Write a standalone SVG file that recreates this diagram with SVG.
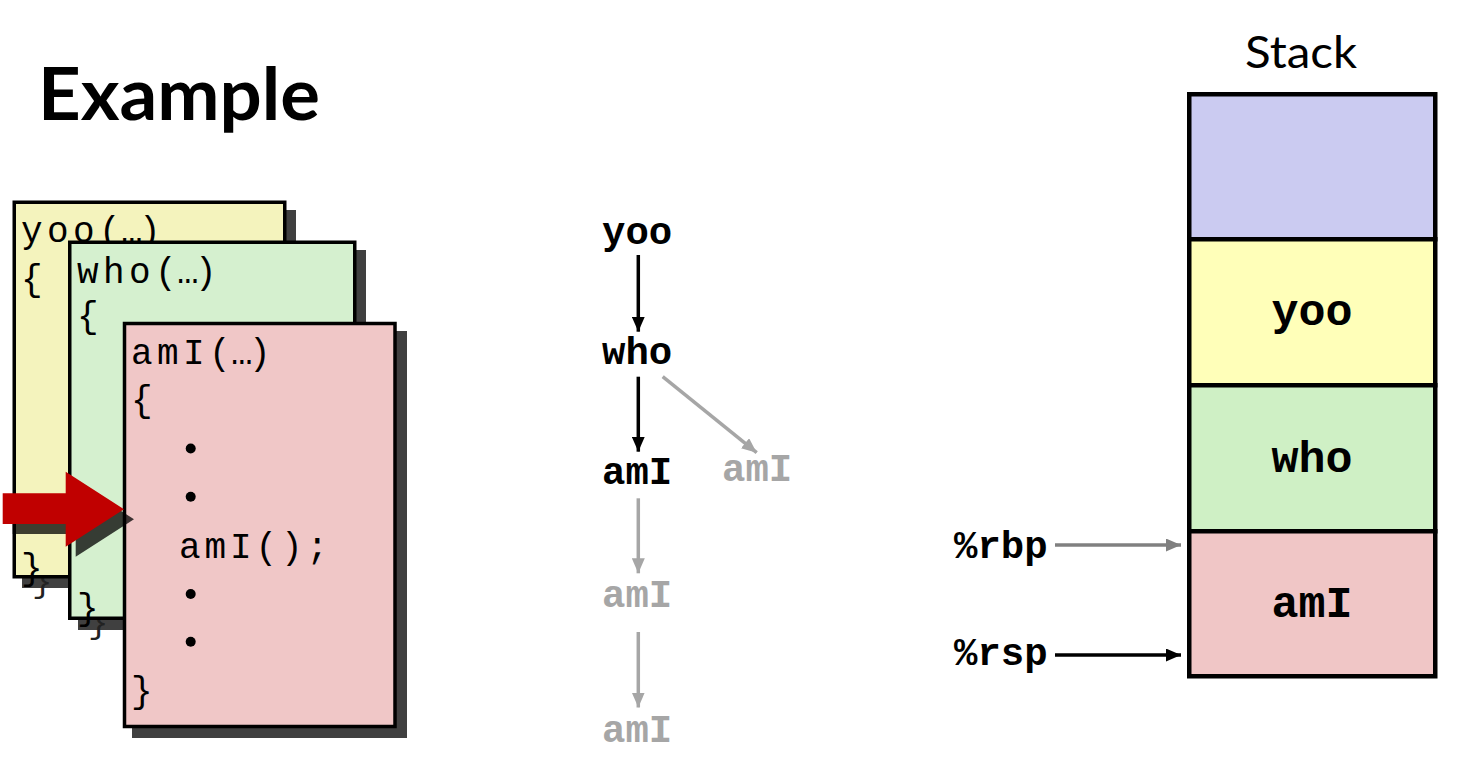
<svg xmlns="http://www.w3.org/2000/svg" width="1476" height="780" viewBox="0 0 1476 780">
<defs>
<style>
.code{font-family:"Liberation Mono","DejaVu Sans Mono",monospace;font-size:36px;fill:#000}
.shtxt{font-family:"Liberation Mono","DejaVu Sans Mono",monospace;font-size:34px;fill:#222}
.lbl{font-family:"Liberation Mono","DejaVu Sans Mono",monospace;font-size:39px;font-weight:bold}
.slbl{font-family:"Liberation Mono","DejaVu Sans Mono",monospace;font-size:45px;font-weight:bold;text-anchor:middle}
.box{stroke:#000;stroke-width:3.5}
.shadow{fill:#404040}
.cell{stroke:#000;stroke-width:4.5}
.blk{stroke:#000;stroke-width:3.5;fill:none}
.gry{stroke:#A6A6A6;stroke-width:3.5;fill:none}
.mgry{stroke:#808080;stroke-width:3.5;fill:none}
</style>
<marker id="ahB" markerUnits="userSpaceOnUse" markerWidth="15" markerHeight="13" refX="15" refY="6.5" orient="auto"><path d="M0,0 L15,6.5 L0,13 z" fill="#000"/></marker>
<marker id="ahG" markerUnits="userSpaceOnUse" markerWidth="15" markerHeight="13" refX="15" refY="6.5" orient="auto"><path d="M0,0 L15,6.5 L0,13 z" fill="#A6A6A6"/></marker>
<marker id="ahM" markerUnits="userSpaceOnUse" markerWidth="15" markerHeight="13" refX="15" refY="6.5" orient="auto"><path d="M0,0 L15,6.5 L0,13 z" fill="#808080"/></marker>
</defs>
<rect width="1476" height="780" fill="#fff"/>

<g id="title"><text x="38" y="120" font-family="Lato,'Liberation Sans',sans-serif" font-weight="bold" font-size="72" textLength="282" lengthAdjust="spacingAndGlyphs">Example</text></g>

<g id="frame-yoo">
<rect class="shadow" x="22" y="210" width="274" height="378"/>
<text class="shtxt" x="32" y="592">}</text>
<rect class="box" x="14.25" y="202.25" width="270.5" height="374.5" fill="#F4F3BD"/>
<text class="code" x="21 47 73 99 121 139" y="242">yoo(…)</text>
<text class="code" x="21" y="290">{</text>
<text class="code" x="21" y="579">}</text>
</g>

<g id="frame-who">
<rect class="shadow" x="78" y="250" width="288" height="380"/>
<text class="shtxt" x="88" y="633">}</text>
<rect class="box" x="69.75" y="242.25" width="285" height="376" fill="#D5F0CF"/>
<text class="code" x="77 103 129 155 177 195" y="283">who(…)</text>
<text class="code" x="77" y="327">{</text>
<text class="code" x="77" y="619">}</text>
</g>

<g id="frame-amI">
<rect class="shadow" x="132" y="331" width="275" height="407"/>
<rect class="box" x="124.5" y="323.5" width="270.5" height="403" fill="#F0C7C7"/>
<text class="code" x="131 157 183 209 231 249" y="363.5">amI(…)</text>
<text class="code" x="131" y="411">{</text>
<circle cx="190.7" cy="448.5" r="5"/>
<circle cx="190.7" cy="496.7" r="5"/>
<text class="code" x="179 204.5 230 255.5 281 306.5" y="558">amI();</text>
<circle cx="190.7" cy="594" r="5"/>
<circle cx="190.7" cy="641.7" r="5"/>
<text class="code" x="131" y="702">}</text>
</g>

<g id="pointer-arrow">
<polygon points="12.7,503.3 75.7,503.3 75.7,481.7 134,519.3 75.7,556.7 75.7,534 12.7,534" fill="#000" fill-opacity="0.75"/>
<polygon points="2.7,493.3 65.7,493.3 65.7,471.7 124,509.3 65.7,546.7 65.7,524 2.7,524" fill="#C00000"/>
</g>

<g id="tree-yoo"><text class="lbl" x="602" y="244">yoo</text></g>
<g id="tree-who"><text class="lbl" x="602" y="364">who</text></g>
<g id="tree-amI1"><text class="lbl" x="602" y="484">amI</text></g>
<g id="tree-amI2"><text class="lbl" x="722" y="481" fill="#A6A6A6">amI</text></g>
<g id="tree-amI3"><text class="lbl" x="602" y="607" fill="#A6A6A6">amI</text></g>
<g id="tree-amI4"><text class="lbl" x="602" y="742" fill="#A6A6A6">amI</text></g>

<g id="stack-title"><text x="1301" y="68" font-family="Lato,'Open Sans',sans-serif" font-size="45" text-anchor="middle" textLength="112" lengthAdjust="spacingAndGlyphs">Stack</text></g>
<g id="stack">
<rect class="cell" x="1189.25" y="94.25" width="246" height="145" fill="#CBCBF1"/>
<rect class="cell" x="1189.25" y="239.25" width="246" height="146" fill="#FFFFB9"/>
<rect class="cell" x="1189.25" y="385.25" width="246" height="146" fill="#CFF0C5"/>
<rect class="cell" x="1189.25" y="531.25" width="246" height="145" fill="#F0C6C6"/>
</g>
<g id="stack-yoo"><text class="slbl" x="1312" y="325">yoo</text></g>
<g id="stack-who"><text class="slbl" x="1312" y="471.7">who</text></g>
<g id="stack-amI"><text class="slbl" x="1312" y="616.7">amI</text></g>

<g id="reg-rbp"><text class="lbl" x="954" y="558">%rbp</text></g>
<g id="reg-rsp"><text class="lbl" x="954" y="665">%rsp</text></g>

<g id="connectors">
<line class="blk" x1="638.3" y1="255" x2="638.3" y2="331.7" marker-end="url(#ahB)"/>
<line class="blk" x1="638.3" y1="376.7" x2="638.3" y2="451.7" marker-end="url(#ahB)"/>
<line class="gry" x1="662.7" y1="376.7" x2="756.7" y2="452.7" marker-end="url(#ahG)"/>
<line class="gry" x1="638.3" y1="498.3" x2="638.3" y2="573.3" marker-end="url(#ahG)"/>
<line class="gry" x1="638.3" y1="632" x2="638.3" y2="707.5" marker-end="url(#ahG)"/>
<line class="mgry" x1="1055" y1="545" x2="1181" y2="545" marker-end="url(#ahM)"/>
<line class="blk" x1="1055" y1="655" x2="1181" y2="655" marker-end="url(#ahB)"/>
</g>
</svg>
